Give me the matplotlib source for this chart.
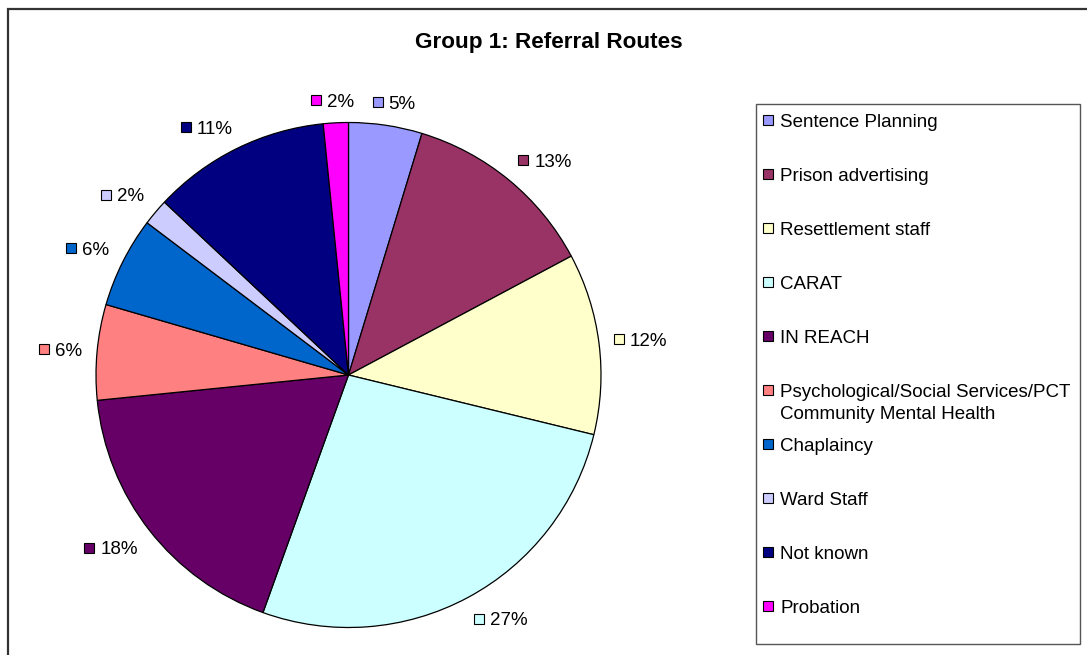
import matplotlib
matplotlib.use('Agg')
import matplotlib.pyplot as plt
from matplotlib.patches import Rectangle
import numpy as np

plt.rcParams['font.family'] = ['Liberation Sans', 'DejaVu Sans']

title = "Group 1: Referral Routes"
categories = ["Sentence Planning", "Prison advertising", "Resettlement staff", "CARAT",
              "IN REACH", "Psychological/Social Services/PCT\nCommunity Mental Health",
              "Chaplaincy", "Ward Staff", "Not known", "Probation"]
# slice shares (%)
slice_share = [4.7, 12.5, 11.6, 26.7, 17.9, 6.1, 5.8, 1.7, 11.4, 1.6]
# percentages as printed on the chart labels
pct_labels = [5, 13, 12, 27, 18, 6, 6, 2, 11, 2]
colors = ["#9999FF", "#993366", "#FFFFCC", "#CCFFFF", "#660066",
          "#FF8080", "#0066CC", "#CCCCFF", "#000080", "#FF00FF"]

W, H = 1087, 655
fig = plt.figure(figsize=(W / 100, H / 100), dpi=100)
fig.patch.set_facecolor('white')

# outer border
fig.add_artist(Rectangle((7.5 / W, -0.05), 1.2, 1 - 8.5 / H + 0.05, transform=fig.transFigure,
                         fill=False, edgecolor='#333333', linewidth=1.6))

fig.text(548.5 / W, 1 - 48 / H, title, ha='center', va='baseline',
         fontsize=16.2, fontweight='bold')

cx, cy, R = 348.5, 375, 252.5
ax = fig.add_axes([(cx - R) / W, (H - cy - R) / H, 2 * R / W, 2 * R / H])
wedges, _ = ax.pie(slice_share, colors=colors, startangle=90, counterclock=False,
                   wedgeprops=dict(edgecolor='black', linewidth=0.9), radius=1)
ax.set_xlim(-1, 1)
ax.set_ylim(-1, 1)
ax.set_aspect('equal')
ax.axis('off')

renderer = fig.canvas.get_renderer()
fs = 13.5
cap = 0.716 * fs * 100 / 72
sq = 10.0
D = R + 15.0
for w, p, c in zip(wedges, pct_labels, colors):
    th = np.deg2rad((w.theta1 + w.theta2) / 2)
    t = ax.text(0, 0, f"{p}%", fontsize=fs, ha='left', va='baseline')
    tw = t.get_window_extent(renderer).width
    Wg = sq + 6 + tw
    hg = 8.0
    px, py = D * np.cos(th), D * np.sin(th)
    gx = px + Wg / 2 * np.clip(2 * np.cos(th), -1, 1)
    gy = py + hg * np.clip(2 * np.sin(th), -1, 1)
    t.set_position(((gx - Wg / 2 + sq + 6) / R, (gy - cap / 2) / R))
    ax.add_patch(Rectangle(((gx - Wg / 2) / R, (gy - sq / 2) / R), sq / R, sq / R,
                           facecolor=c, edgecolor='black', linewidth=0.8, clip_on=False))

# legend box
lx0, ly0, lx1, ly1 = 756, 104, 1080, 644
fig.add_artist(Rectangle((lx0 / W, 1 - ly1 / H), (lx1 - lx0) / W, (ly1 - ly0) / H,
                         transform=fig.transFigure, fill=False, edgecolor='#555555', linewidth=1.0))
for i, (cat, c) in enumerate(zip(categories, colors)):
    ys = 120 + 54 * i
    n = cat.count('\n')
    fig.add_artist(Rectangle(((768 - sq / 2) / W, 1 - (ys + sq / 2) / H), sq / W, sq / H,
                             transform=fig.transFigure, facecolor=c, edgecolor='black', linewidth=0.8))
    fig.text(780 / W, 1 - (ys + cap / 2 + 22 * n) / H, cat, ha='left', va='baseline', fontsize=fs,
             linespacing=1.33)

fig.savefig('out.png', dpi=100)
